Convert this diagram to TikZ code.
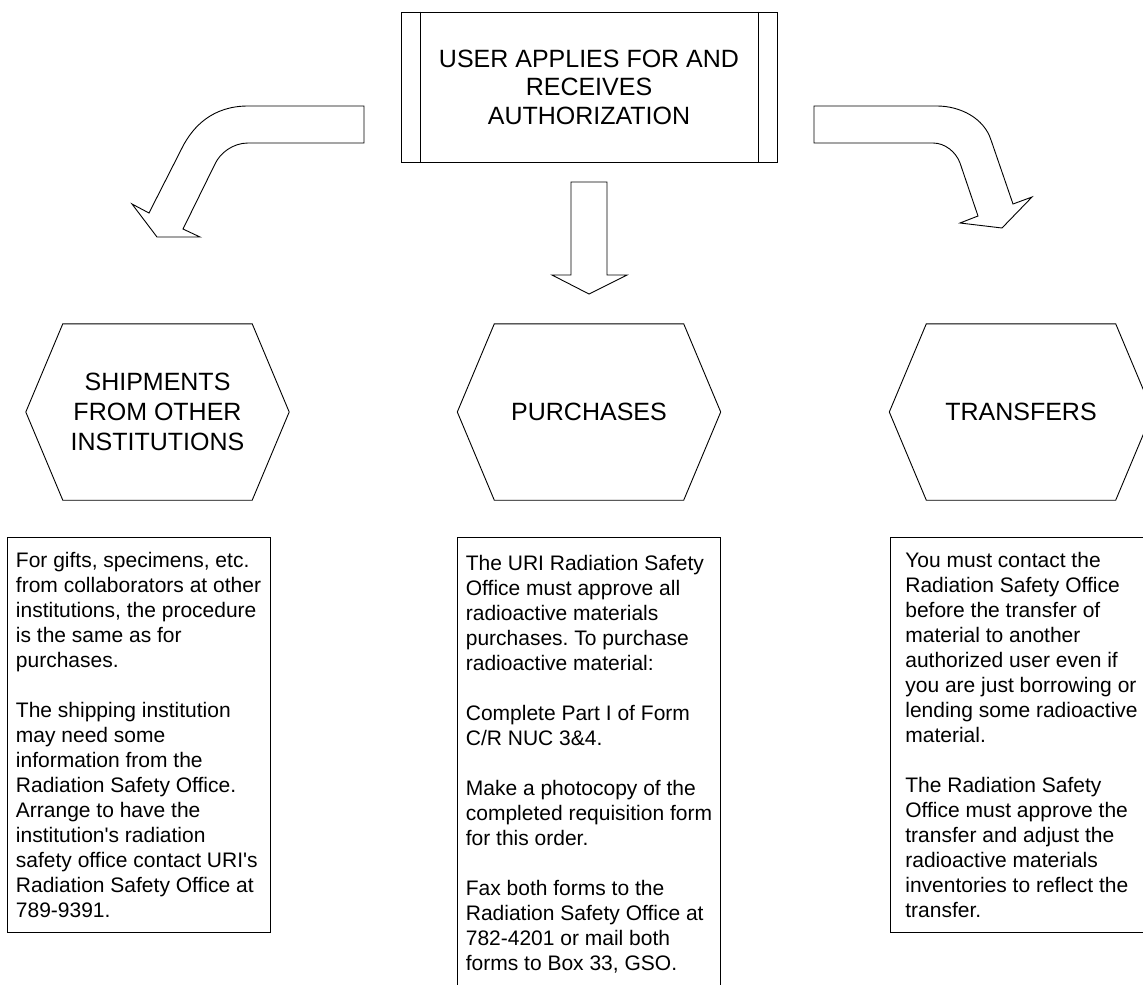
\documentclass[tikz,border=0pt]{standalone}
\usepackage{fontspec}
\setmainfont{Liberation Sans}
\frenchspacing

\tikzset{
  outline/.style={line width=0.9pt, draw=black, line join=miter},
  topbox/.style={outline, minimum width=376pt, minimum height=150pt,
    align=center, font=\fontsize{25}{28.5}\selectfont},
  hexlabel/.style={minimum width=189pt, minimum height=176pt, inner sep=0pt,
    align=center, font=\fontsize{25}{30}\selectfont},
  notebox/.style={outline, anchor=north, minimum width=263pt, minimum height=395pt,
    inner sep=0pt, align=left, font=\fontsize{21}{25}\selectfont},
}

\begin{document}
\begin{tikzpicture}[x=1pt, y=-1pt]
\useasboundingbox (0,0) rectangle (1143,985);
\clip (0,0) rectangle (1143,985);

% authorization box with the two side bars
\node[topbox] (auth) at (589,87) {USER APPLIES FOR AND\\RECEIVES\\AUTHORIZATION};
\draw[outline] ([xshift=20pt]auth.north west) -- ([xshift=20pt]auth.south west);
\draw[outline] ([xshift=-19pt]auth.north east) -- ([xshift=-19pt]auth.south east);

% block arrows
\draw[outline] (364,106) -- (248,106)
   .. controls (213,106) and (193,126) .. (182,148)
   -- (149,213) -- (132,204) -- (157,237) -- (200,237) -- (183,229)
   -- (215,164) .. controls (220,153) and (233,143) .. (248,143)
   -- (364,143) -- cycle;
\draw[outline] (571,182) -- (607,182) -- (607,275) -- (627,275)
   -- (589,294) -- (552,275) -- (571,275) -- cycle;
\draw[outline] (814,106) -- (937,106)
   .. controls (960,106) and (984,118) .. (991,140)
   -- (1013,204) -- (1032,197) -- (1002,228) -- (960,223) -- (978,216)
   -- (960,163) .. controls (956,152) and (945,143) .. (933,143)
   -- (814,143) -- cycle;

% the three ways in
\node[hexlabel] (ship) at (157.5,412) {SHIPMENTS\\FROM OTHER\\INSTITUTIONS};
\node[hexlabel] (buy)  at (589,412)   {PURCHASES};
\node[hexlabel] (move) at (1021,412)  {TRANSFERS};
\foreach \h in {ship,buy,move}
  \draw[outline] (\h.north west) -- (\h.north east) -- ([xshift=37pt]\h.east)
     -- (\h.south east) -- (\h.south west) -- ([xshift=-37pt]\h.west) -- cycle;

% notes under each
\node[notebox] (shipnote) at (138.5,537) {For gifts, specimens, etc.\\
  from collaborators at other\\
  institutions, the procedure\\
  is the same as for\\
  purchases.\\[25pt]
  The shipping institution\\
  may need some\\
  information from the\\
  Radiation Safety Office.\\
  Arrange to have the\\
  institution\textquotesingle s radiation\\
  safety office contact URI\textquotesingle s\\
  Radiation Safety Office at\\
  789-9391.};
\node[notebox, minimum height=453pt] (buynote) at (589,537) {The URI Radiation Safety\\
  Office must approve all\\
  radioactive materials\\
  purchases. To purchase\\
  radioactive material:\\[25pt]
  Complete Part I of Form\\
  C/R NUC 3\&4.\\[25pt]
  Make a photocopy of the\\
  completed requisition form\\
  for this order.\\[25pt]
  Fax both forms to the\\
  Radiation Safety Office at\\
  782-4201 or mail both\\
  forms to Box 33, GSO.};
\node[notebox] (movenote) at (1021.5,537) {You must contact the\\
  Radiation Safety Office\\
  before the transfer of\\
  material to another\\
  authorized user even if\\
  you are just borrowing or\\
  lending some radioactive\\
  material.\\[25pt]
  The Radiation Safety\\
  Office must approve the\\
  transfer and adjust the\\
  radioactive materials\\
  inventories to reflect the\\
  transfer.};
\end{tikzpicture}
\end{document}
